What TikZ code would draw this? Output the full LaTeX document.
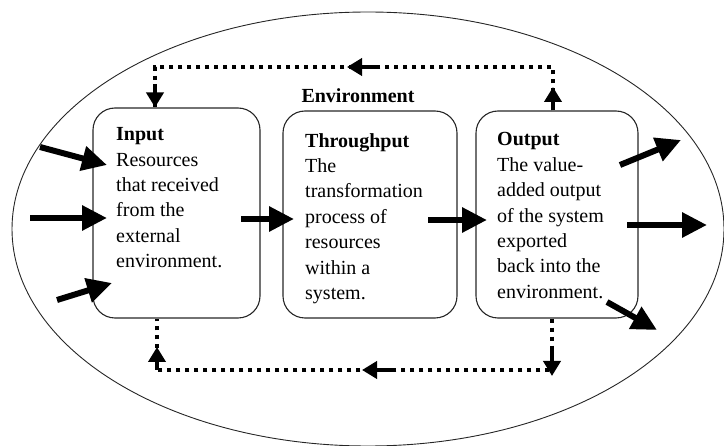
\documentclass[tikz,border=0pt]{standalone}
\usepackage{fontspec}
\setmainfont{Liberation Serif}
\usetikzlibrary{arrows.meta}
\begin{document}
\begin{tikzpicture}[x=1pt,y=-1pt,
  sysbox/.style={draw=black!85,line width=1.1pt,rounded corners=22pt,inner sep=0pt},
  txt/.style={inner sep=0pt,align=left,anchor=north west,font=\fontsize{20}{25.4}\selectfont},
  bigarrow/.style={line width=6pt,-{Triangle[length=25pt,width=24pt]}},
  dotline/.style={line width=4pt,dash pattern=on 4.5pt off 4.5pt,line join=miter},
  dothead/.style={line width=4pt,-{Triangle[length=15pt,width=17pt]}}]
\useasboundingbox (0,0) rectangle (724,446);
\clip (0,0) rectangle (724,446);
% environment
\draw[line width=0.9pt,draw=black!85] (368,229) ellipse [x radius=356pt,y radius=217pt];
\node[inner sep=0pt,anchor=base,font=\fontsize{20}{24}\selectfont\bfseries] (env) at (358,103) {Environment};
% boxes
\node[sysbox,minimum width=167pt,minimum height=210pt] (inp) at (176.5,213) {};
\node[sysbox,minimum width=174pt,minimum height=207pt] (thr) at (370,214.5) {};
\node[sysbox,minimum width=162pt,minimum height=207pt] (out) at (557,214.5) {};
% texts
\node[txt] (inptext) at (116,127.5) {\textbf{Input}\\Resources\\that received\\from the\\external\\environment.};
\node[txt] (thrtext) at (305,133) {\textbf{Throughput}\\The\\transformation\\process of\\resources\\within a\\system.};
\node[txt] (outtext) at (497,132.5) {\textbf{Output}\\The value-\\added output\\of the system\\exported\\back into the\\environment.};
% input arrows
\coordinate (i1s) at (40,147);  \coordinate (i1e) at (107,165);
\coordinate (i2s) at (30,218);  \coordinate (i2e) at (107,218);
\coordinate (i3s) at (57,300);  \coordinate (i3e) at (112,283);
\draw[bigarrow] (i1s) -- (i1e);
\draw[bigarrow] (i2s) -- (i2e);
\draw[bigarrow] (i3s) -- (i3e);
% between boxes
\coordinate (m1s) at (241,219); \coordinate (m1e) at (294,219);
\coordinate (m2s) at (428,220); \coordinate (m2e) at (487,220);
\draw[bigarrow] (m1s) -- (m1e);
\draw[bigarrow] (m2s) -- (m2e);
% output arrows
\coordinate (o1s) at (620,165); \coordinate (o1e) at (681,140);
\coordinate (o2s) at (627,225); \coordinate (o2e) at (707,225);
\coordinate (o3s) at (607,302); \coordinate (o3e) at (657,330);
\draw[bigarrow] (o1s) -- (o1e);
\draw[bigarrow] (o2s) -- (o2e);
\draw[bigarrow] (o3s) -- (o3e);
% feedback loops
\coordinate (TR) at (553,67); \coordinate (TL) at (155,67);
\coordinate (BR) at (552,370); \coordinate (BL) at (157,370);
\draw[dotline] (TR |- out.north) -- (TR) -- (TL) -- (TL |- inp.north);
\draw[dothead] (TR |- out.north) -- (553,87);
\draw[dothead] (378,67) -- (347,67);
\draw[dothead] (155,84) -- (TL |- inp.north);
\draw[dotline] (BR |- out.south) -- (BR) -- (BL) -- (BL |- inp.south);
\draw[dothead] (552,350) -- (552,376);
\draw[dothead] (392,370) -- (362,370);
\draw[dothead] (BL) -- (157,347);
\end{tikzpicture}
\end{document}
